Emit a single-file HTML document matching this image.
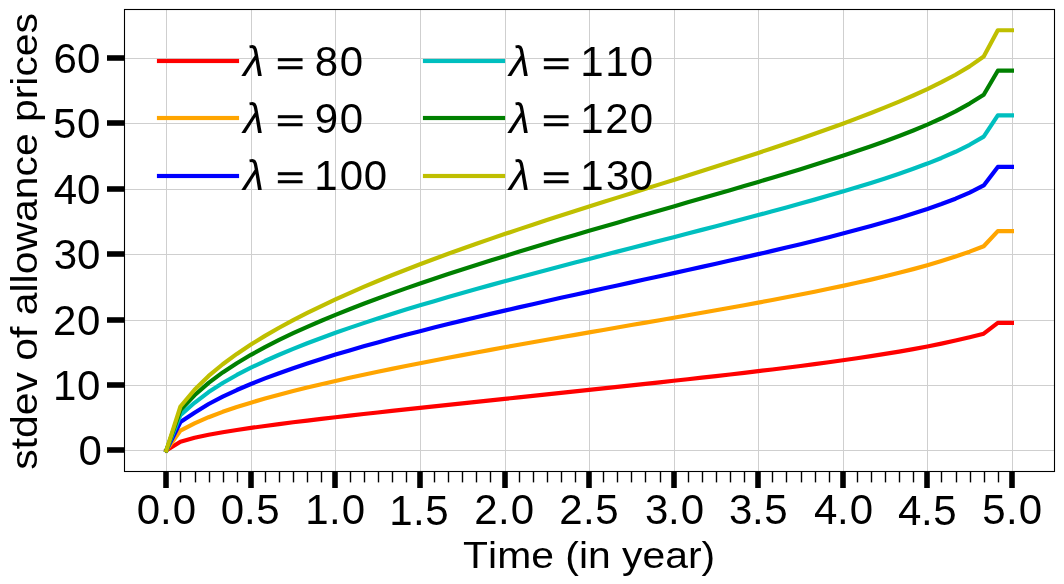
<!DOCTYPE html>
<html lang="en"><head><meta charset="utf-8"><title>stdev of allowance prices</title>
<style>html,body{margin:0;padding:0;background:#fff;}svg{display:block;font-family:"Liberation Sans",sans-serif;font-kerning:none;}text{fill:#000;}</style></head><body>
<svg width="1064" height="584" viewBox="0 0 1064 584">
<rect width="1064" height="584" fill="#fff"/>
<g stroke="#cfcfcf" stroke-width="1" shape-rendering="crispEdges">
<line x1="166.5" y1="9.5" x2="166.5" y2="471.5"/>
<line x1="251.5" y1="9.5" x2="251.5" y2="471.5"/>
<line x1="335.5" y1="9.5" x2="335.5" y2="471.5"/>
<line x1="420.5" y1="9.5" x2="420.5" y2="471.5"/>
<line x1="505.5" y1="9.5" x2="505.5" y2="471.5"/>
<line x1="589.5" y1="9.5" x2="589.5" y2="471.5"/>
<line x1="674.5" y1="9.5" x2="674.5" y2="471.5"/>
<line x1="758.5" y1="9.5" x2="758.5" y2="471.5"/>
<line x1="843.5" y1="9.5" x2="843.5" y2="471.5"/>
<line x1="927.5" y1="9.5" x2="927.5" y2="471.5"/>
<line x1="1012.5" y1="9.5" x2="1012.5" y2="471.5"/>
<line x1="124.5" y1="450.5" x2="1054.5" y2="450.5"/>
<line x1="124.5" y1="385.5" x2="1054.5" y2="385.5"/>
<line x1="124.5" y1="320.5" x2="1054.5" y2="320.5"/>
<line x1="124.5" y1="254.5" x2="1054.5" y2="254.5"/>
<line x1="124.5" y1="189.5" x2="1054.5" y2="189.5"/>
<line x1="124.5" y1="123.5" x2="1054.5" y2="123.5"/>
<line x1="124.5" y1="58.5" x2="1054.5" y2="58.5"/>
</g>
<g fill="none" stroke-width="4.17" stroke-linejoin="round" stroke-linecap="square">
<polyline stroke="#ff0000" points="166.35,450.4 180.44,441.7 194.53,437.74 208.63,434.8 222.72,432.28 236.81,430.01 250.91,427.92 265,425.95 279.09,424.08 293.18,422.29 307.27,420.56 321.37,418.87 335.46,417.23 349.55,415.61 363.64,414.02 377.74,412.46 391.83,410.91 405.92,409.37 420.02,407.85 434.11,406.34 448.2,404.83 462.29,403.34 476.38,401.84 490.48,400.35 504.57,398.86 518.66,397.38 532.75,395.89 546.85,394.4 560.94,392.91 575.03,391.42 589.12,389.92 603.22,388.42 617.31,386.92 631.4,385.4 645.5,383.88 659.59,382.35 673.68,380.8 687.77,379.24 701.87,377.67 715.96,376.08 730.05,374.46 744.14,372.83 758.24,371.16 772.33,369.46 786.42,367.73 800.51,365.95 814.61,364.12 828.7,362.23 842.79,360.28 856.88,358.25 870.98,356.13 885.07,353.91 899.16,351.57 913.25,349.09 927.35,346.46 941.44,343.63 955.53,340.58 969.62,337.28 983.72,333.67 997.81,322.9 1011.9,322.9"/>
<polyline stroke="#ffa500" points="166.35,450.4 180.44,430.64 194.53,423.44 208.63,417.19 222.72,411.84 236.81,407.06 250.91,402.67 265,398.59 279.09,394.74 293.18,391.08 307.27,387.58 321.37,384.21 335.46,380.96 349.55,377.81 363.64,374.74 377.74,371.76 391.83,368.84 405.92,365.99 420.02,363.19 434.11,360.44 448.2,357.74 462.29,355.08 476.38,352.46 490.48,349.87 504.57,347.31 518.66,344.77 532.75,342.26 546.85,339.77 560.94,337.3 575.03,334.83 589.12,332.38 603.22,329.94 617.31,327.5 631.4,325.06 645.5,322.62 659.59,320.18 673.68,317.73 687.77,315.26 701.87,312.78 715.96,310.28 730.05,307.75 744.14,305.19 758.24,302.59 772.33,299.95 786.42,297.27 800.51,294.53 814.61,291.72 828.7,288.83 842.79,285.86 856.88,282.79 870.98,279.6 885.07,276.27 899.16,272.79 913.25,269.11 927.35,265.22 941.44,261.05 955.53,256.56 969.62,251.66 983.72,246.26 997.81,231.18 1011.9,231.18"/>
<polyline stroke="#0000ff" points="166.35,450.4 180.44,422.07 194.53,412.7 208.63,404.02 222.72,396.62 236.81,390.03 250.91,384.01 265,378.42 279.09,373.18 293.18,368.22 307.27,363.49 321.37,358.96 335.46,354.61 349.55,350.41 363.64,346.34 377.74,342.39 391.83,338.55 405.92,334.8 420.02,331.15 434.11,327.57 448.2,324.06 462.29,320.62 476.38,317.23 490.48,313.9 504.57,310.61 518.66,307.37 532.75,304.16 546.85,300.98 560.94,297.83 575.03,294.71 589.12,291.6 603.22,288.51 617.31,285.43 631.4,282.35 645.5,279.27 659.59,276.19 673.68,273.1 687.77,270 701.87,266.89 715.96,263.75 730.05,260.58 744.14,257.39 758.24,254.15 772.33,250.87 786.42,247.54 800.51,244.16 814.61,240.7 828.7,237.17 842.79,233.56 856.88,229.84 870.98,226.01 885.07,222.05 899.16,217.91 913.25,213.58 927.35,209 941.44,204.07 955.53,198.69 969.62,192.63 983.72,185.47 997.81,166.94 1011.9,166.94"/>
<polyline stroke="#00bfbf" points="166.35,450.4 180.44,415.07 194.53,402.8 208.63,392.06 222.72,382.98 236.81,374.97 250.91,367.71 265,361.01 279.09,354.75 293.18,348.86 307.27,343.27 321.37,337.93 335.46,332.81 349.55,327.87 363.64,323.11 377.74,318.48 391.83,313.99 405.92,309.61 420.02,305.33 434.11,301.14 448.2,297.03 462.29,293 476.38,289.03 490.48,285.12 504.57,281.27 518.66,277.45 532.75,273.68 546.85,269.95 560.94,266.24 575.03,262.56 589.12,258.9 603.22,255.26 617.31,251.63 631.4,248 645.5,244.39 659.59,240.77 673.68,237.15 687.77,233.52 701.87,229.87 715.96,226.21 730.05,222.53 744.14,218.82 758.24,215.08 772.33,211.29 786.42,207.46 800.51,203.58 814.61,199.63 828.7,195.6 842.79,191.49 856.88,187.27 870.98,182.92 885.07,178.42 899.16,173.73 913.25,168.8 927.35,163.57 941.44,157.94 955.53,151.76 969.62,144.8 983.72,136.64 997.81,115.38 1011.9,115.38"/>
<polyline stroke="#008000" points="166.35,450.4 180.44,410.17 194.53,395.24 208.63,382.84 222.72,372.39 236.81,363.17 250.91,354.82 265,347.14 279.09,339.97 293.18,333.22 307.27,326.82 321.37,320.72 335.46,314.87 349.55,309.23 363.64,303.79 377.74,298.51 391.83,293.39 405.92,288.39 420.02,283.52 434.11,278.75 448.2,274.07 462.29,269.48 476.38,264.97 490.48,260.52 504.57,256.14 518.66,251.82 532.75,247.54 546.85,243.31 560.94,239.12 575.03,234.96 589.12,230.83 603.22,226.72 617.31,222.64 631.4,218.57 645.5,214.51 659.59,210.46 673.68,206.42 687.77,202.36 701.87,198.31 715.96,194.24 730.05,190.15 744.14,186.03 758.24,181.88 772.33,177.7 786.42,173.46 800.51,169.16 814.61,164.8 828.7,160.34 842.79,155.79 856.88,151.1 870.98,146.27 885.07,141.25 899.16,136.01 913.25,130.48 927.35,124.6 941.44,118.26 955.53,111.33 969.62,103.6 983.72,94.79 997.81,70.7 1011.9,70.7"/>
<polyline stroke="#bfbf00" points="166.35,450.4 180.44,406.5 194.53,389.74 208.63,375.95 222.72,364.26 236.81,353.92 250.91,344.53 265,335.86 279.09,327.77 293.18,320.15 307.27,312.92 321.37,306.02 335.46,299.42 349.55,293.07 363.64,286.95 377.74,281.03 391.83,275.29 405.92,269.71 420.02,264.28 434.11,258.99 448.2,253.81 462.29,248.74 476.38,243.77 490.48,238.89 504.57,234.09 518.66,229.37 532.75,224.7 546.85,220.09 560.94,215.53 575.03,211.01 589.12,206.52 603.22,202.06 617.31,197.63 631.4,193.2 645.5,188.79 659.59,184.37 673.68,179.95 687.77,175.52 701.87,171.06 715.96,166.58 730.05,162.07 744.14,157.51 758.24,152.9 772.33,148.24 786.42,143.5 800.51,138.69 814.61,133.79 828.7,128.79 842.79,123.67 856.88,118.42 870.98,113 885.07,107.41 899.16,101.59 913.25,95.51 927.35,89.08 941.44,82.21 955.53,74.73 969.62,66.36 983.72,56.55 997.81,30.27 1011.9,30.27"/>
</g>
<rect x="124.5" y="9.5" width="930" height="462" fill="none" stroke="#000" stroke-width="1.1"/>
<g fill="#000">
<rect x="163.22" y="471" width="5.56" height="17"/>
<rect x="248.22" y="471" width="5.56" height="17"/>
<rect x="332.22" y="471" width="5.56" height="17"/>
<rect x="417.22" y="471" width="5.56" height="17"/>
<rect x="502.22" y="471" width="5.56" height="17"/>
<rect x="586.22" y="471" width="5.56" height="17"/>
<rect x="671.22" y="471" width="5.56" height="17"/>
<rect x="755.22" y="471" width="5.56" height="17"/>
<rect x="840.22" y="471" width="5.56" height="17"/>
<rect x="924.22" y="471" width="5.56" height="17"/>
<rect x="1009.22" y="471" width="5.56" height="17"/>
<rect x="179.8" y="471" width="1.4" height="11.4"/>
<rect x="194.8" y="471" width="1.4" height="11.4"/>
<rect x="208.8" y="471" width="1.4" height="11.4"/>
<rect x="222.8" y="471" width="1.4" height="11.4"/>
<rect x="236.8" y="471" width="1.4" height="11.4"/>
<rect x="264.8" y="471" width="1.4" height="11.4"/>
<rect x="278.8" y="471" width="1.4" height="11.4"/>
<rect x="292.8" y="471" width="1.4" height="11.4"/>
<rect x="306.8" y="471" width="1.4" height="11.4"/>
<rect x="320.8" y="471" width="1.4" height="11.4"/>
<rect x="349.8" y="471" width="1.4" height="11.4"/>
<rect x="363.8" y="471" width="1.4" height="11.4"/>
<rect x="377.8" y="471" width="1.4" height="11.4"/>
<rect x="391.8" y="471" width="1.4" height="11.4"/>
<rect x="405.8" y="471" width="1.4" height="11.4"/>
<rect x="433.8" y="471" width="1.4" height="11.4"/>
<rect x="447.8" y="471" width="1.4" height="11.4"/>
<rect x="461.8" y="471" width="1.4" height="11.4"/>
<rect x="475.8" y="471" width="1.4" height="11.4"/>
<rect x="489.8" y="471" width="1.4" height="11.4"/>
<rect x="518.8" y="471" width="1.4" height="11.4"/>
<rect x="532.8" y="471" width="1.4" height="11.4"/>
<rect x="546.8" y="471" width="1.4" height="11.4"/>
<rect x="560.8" y="471" width="1.4" height="11.4"/>
<rect x="574.8" y="471" width="1.4" height="11.4"/>
<rect x="602.8" y="471" width="1.4" height="11.4"/>
<rect x="616.8" y="471" width="1.4" height="11.4"/>
<rect x="630.8" y="471" width="1.4" height="11.4"/>
<rect x="644.8" y="471" width="1.4" height="11.4"/>
<rect x="659.8" y="471" width="1.4" height="11.4"/>
<rect x="687.8" y="471" width="1.4" height="11.4"/>
<rect x="701.8" y="471" width="1.4" height="11.4"/>
<rect x="715.8" y="471" width="1.4" height="11.4"/>
<rect x="729.8" y="471" width="1.4" height="11.4"/>
<rect x="743.8" y="471" width="1.4" height="11.4"/>
<rect x="771.8" y="471" width="1.4" height="11.4"/>
<rect x="785.8" y="471" width="1.4" height="11.4"/>
<rect x="800.8" y="471" width="1.4" height="11.4"/>
<rect x="814.8" y="471" width="1.4" height="11.4"/>
<rect x="828.8" y="471" width="1.4" height="11.4"/>
<rect x="856.8" y="471" width="1.4" height="11.4"/>
<rect x="870.8" y="471" width="1.4" height="11.4"/>
<rect x="884.8" y="471" width="1.4" height="11.4"/>
<rect x="898.8" y="471" width="1.4" height="11.4"/>
<rect x="912.8" y="471" width="1.4" height="11.4"/>
<rect x="940.8" y="471" width="1.4" height="11.4"/>
<rect x="955.8" y="471" width="1.4" height="11.4"/>
<rect x="969.8" y="471" width="1.4" height="11.4"/>
<rect x="983.8" y="471" width="1.4" height="11.4"/>
<rect x="997.8" y="471" width="1.4" height="11.4"/>
<rect x="107" y="447.22" width="17.5" height="5.56"/>
<rect x="107" y="382.22" width="17.5" height="5.56"/>
<rect x="107" y="317.22" width="17.5" height="5.56"/>
<rect x="107" y="251.22" width="17.5" height="5.56"/>
<rect x="107" y="186.22" width="17.5" height="5.56"/>
<rect x="107" y="120.22" width="17.5" height="5.56"/>
<rect x="107" y="55.22" width="17.5" height="5.56"/>
</g>
<g id="legendhandles">
<rect x="156.92" y="58.91" width="82.16" height="4.17" fill="#ff0000"/>
<rect x="156.92" y="115.92" width="82.16" height="4.17" fill="#ffa500"/>
<rect x="156.92" y="173.91" width="82.16" height="4.17" fill="#0000ff"/>
<rect x="422.92" y="58.91" width="82.16" height="4.17" fill="#00bfbf"/>
<rect x="422.92" y="115.92" width="82.16" height="4.17" fill="#008000"/>
<rect x="422.92" y="173.91" width="82.16" height="4.17" fill="#bfbf00"/>
</g>
<g id="alltext" style="mix-blend-mode:multiply">
<g id="yticklabels">
<text x="78.54" y="451.41" font-size="42.02" transform="scale(1,1.0300)">0</text>
<text x="53.01 77.04" y="388.25" font-size="42.02" transform="scale(1,1.0300)">10</text>
<text x="53.09 77.04" y="324.95" font-size="42.02" transform="scale(1,1.0300)">20</text>
<text x="53.69 77.04" y="261.07" font-size="42.02" transform="scale(1,1.0300)">30</text>
<text x="53.69 77.04" y="197.96" font-size="42.02" transform="scale(1,1.0300)">40</text>
<text x="53.09 77.04" y="133.69" font-size="42.02" transform="scale(1,1.0300)">50</text>
<text x="53.43 77.04" y="70.78" font-size="42.02" transform="scale(1,1.0300)">60</text>
</g><g id="xticklabels">
<text x="136.79 160.12 172.79" y="508.59" font-size="42.02" transform="scale(1,1.0300)">0.0</text>
<text x="220.79 244.12 256.34" y="508.59" font-size="42.02" transform="scale(1,1.0300)">0.5</text>
<text x="305.26 329.12 341.79" y="508.59" font-size="42.02" transform="scale(1,1.0300)">1.0</text>
<text x="389.26 413.12 425.34" y="509.56" font-size="42.02" transform="scale(1,1.0300)">1.5</text>
<text x="474.34 498.12 510.79" y="508.59" font-size="42.02" transform="scale(1,1.0300)">2.0</text>
<text x="559.34 583.12 595.34" y="508.59" font-size="42.02" transform="scale(1,1.0300)">2.5</text>
<text x="644.94 668.12 680.79" y="508.59" font-size="42.02" transform="scale(1,1.0300)">3.0</text>
<text x="728.94 752.12 764.34" y="508.59" font-size="42.02" transform="scale(1,1.0300)">3.5</text>
<text x="813.94 837.12 849.79" y="508.59" font-size="42.02" transform="scale(1,1.0300)">4.0</text>
<text x="897.94 921.12 933.34" y="509.56" font-size="42.02" transform="scale(1,1.0300)">4.5</text>
<text x="982.34 1006.12 1018.79" y="508.59" font-size="42.02" transform="scale(1,1.0300)">5.0</text>
</g>
<text id="xlabel" transform="translate(463.08,568.2) scale(1.0903,1)" font-size="37.5">Time (in year)</text>
<text id="ylabel" transform="translate(36.8,469.72) rotate(-90) scale(1.0907,1)" font-size="37.5">stdev of allowance prices</text>
<g id="legend">
<g>
<text x="243.32" y="76.1" font-size="42.21" font-style="italic">λ</text>
<text transform="translate(276.11,73.99) scale(1.1592,0.7595)" font-size="42" stroke="#000" stroke-width="0.94" stroke-linejoin="miter">=</text>
<text x="314.84 339.79" y="73.4" font-size="42.02" transform="scale(1,1.0300)">80</text>
</g>
<g>
<text x="243.32" y="133.1" font-size="42.21" font-style="italic">λ</text>
<text transform="translate(276.11,130.99) scale(1.1592,0.7595)" font-size="42" stroke="#000" stroke-width="0.94" stroke-linejoin="miter">=</text>
<text x="314.79 339.79" y="128.74" font-size="42.02" transform="scale(1,1.0300)">90</text>
</g>
<g>
<text x="243.32" y="190.1" font-size="42.21" font-style="italic">λ</text>
<text transform="translate(276.11,187.99) scale(1.1592,0.7595)" font-size="42" stroke="#000" stroke-width="0.94" stroke-linejoin="miter">=</text>
<text x="314.26 339.79 363.79" y="184.08" font-size="42.02" transform="scale(1,1.0300)">100</text>
</g>
<g>
<text x="509.32" y="76.1" font-size="42.21" font-style="italic">λ</text>
<text transform="translate(542.11,73.99) scale(1.1592,0.7595)" font-size="42" stroke="#000" stroke-width="0.94" stroke-linejoin="miter">=</text>
<text x="580.26 605.26 629.79" y="73.4" font-size="42.02" transform="scale(1,1.0300)">110</text>
</g>
<g>
<text x="509.32" y="133.1" font-size="42.21" font-style="italic">λ</text>
<text transform="translate(542.11,130.99) scale(1.1592,0.7595)" font-size="42" stroke="#000" stroke-width="0.94" stroke-linejoin="miter">=</text>
<text x="580.26 605.34 629.79" y="128.74" font-size="42.02" transform="scale(1,1.0300)">120</text>
</g>
<g>
<text x="509.32" y="190.1" font-size="42.21" font-style="italic">λ</text>
<text transform="translate(542.11,187.99) scale(1.1592,0.7595)" font-size="42" stroke="#000" stroke-width="0.94" stroke-linejoin="miter">=</text>
<text x="580.26 605.94 629.79" y="184.08" font-size="42.02" transform="scale(1,1.0300)">130</text>
</g>
</g>
</g>
</svg></body></html>
